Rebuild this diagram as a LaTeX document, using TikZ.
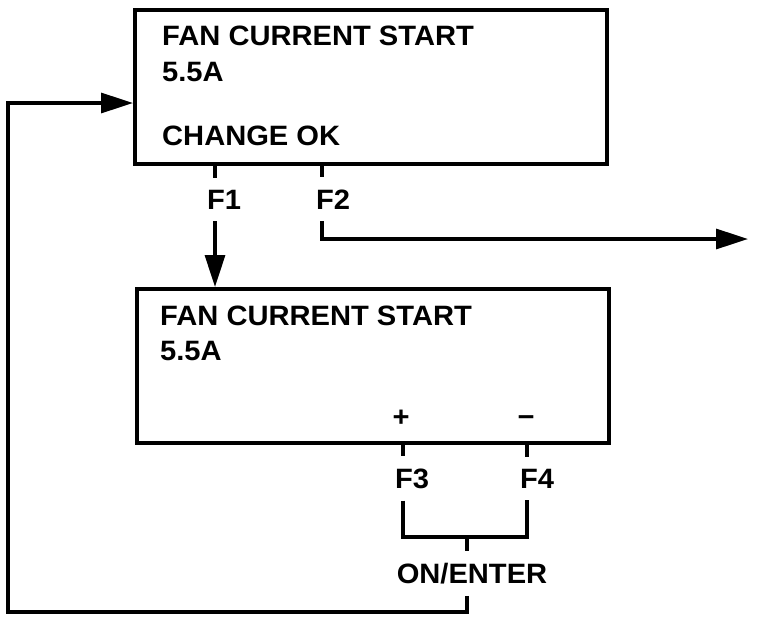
\documentclass[tikz,border=0pt]{standalone}
\usepackage{fontspec}
\setmainfont{Liberation Sans}[FakeStretch=1.04]
\usetikzlibrary{arrows.meta, positioning}

\begin{document}
\begin{tikzpicture}[
    x=1pt, y=-1pt,
    disp/.style={draw, line width=3.6pt, anchor=north west, minimum width=472pt,
                 minimum height=154pt, inner sep=0pt},
    txt/.style={anchor=base west, inner sep=0pt, font=\fontsize{28}{33}\selectfont\bfseries},
    key/.style={txt, inner xsep=0pt, inner ysep=12pt},
    wire/.style={line width=3.2pt},
    arr/.style={wire, -{Triangle[length=32pt, width=20pt]}},
]
\useasboundingbox (0,0) rectangle (768,624);

% display screens
\node[disp] (disp1) at (133,8) {};
\node[disp] (disp2) at (135,287) {};

% screen texts
\node[txt] (title1) at (162,45) {FAN CURRENT START};
\node[txt] (value1) at (162,81) {5.5A};
\node[txt] (status1) at (162,145) {CHANGE OK};
\node[txt] (title2) at (160,325) {FAN CURRENT START};
\node[txt] (value2) at (160,360) {5.5A};
\node[txt, anchor=base] (plus) at (401,426) {+};
\node[txt, anchor=base] (minus) at (526,426) {−};

% keys
\node[key] (keyf1) at (207,209) {F1};
\node[key] (keyf2) at (316,209) {F2};
\node[key] (keyf3) at (395,488) {F3};
\node[key] (keyf4) at (520,488) {F4};
\node[key, anchor=base] (onenter) at (472,583) {ON/ENTER};

\coordinate (f1top) at (215,162);
\coordinate (f2top) at (322,162);
\coordinate (f3top) at (403,441);
\coordinate (f4top) at (527,441);
\coordinate (join) at (467,537);
\coordinate (exit) at (748,239);
\coordinate (loop) at (8,612);
\coordinate (reentry) at (133,103);

% F1 and F2
\draw[wire] (f1top) -- (f1top |- keyf1.north);
\draw[arr] (f1top |- keyf1.south) -- (f1top |- disp2.north);
\draw[wire] (f2top) -- (f2top |- keyf2.north);
\draw[arr] (f2top |- keyf2.south) |- (exit);

% F3 + F4 = ON/ENTER
\draw[wire] (f3top) -- (f3top |- keyf3.north);
\draw[wire] (f4top) -- (f4top |- keyf4.north);
\draw[wire] (f3top |- keyf3.south) -- (f3top |- join) -- (f4top |- join) -- (f4top |- keyf4.south);
\draw[wire] (join) -- (join |- onenter.north);
\draw[arr] (join |- onenter.south) |- (loop) |- (reentry);
\end{tikzpicture}
\end{document}
